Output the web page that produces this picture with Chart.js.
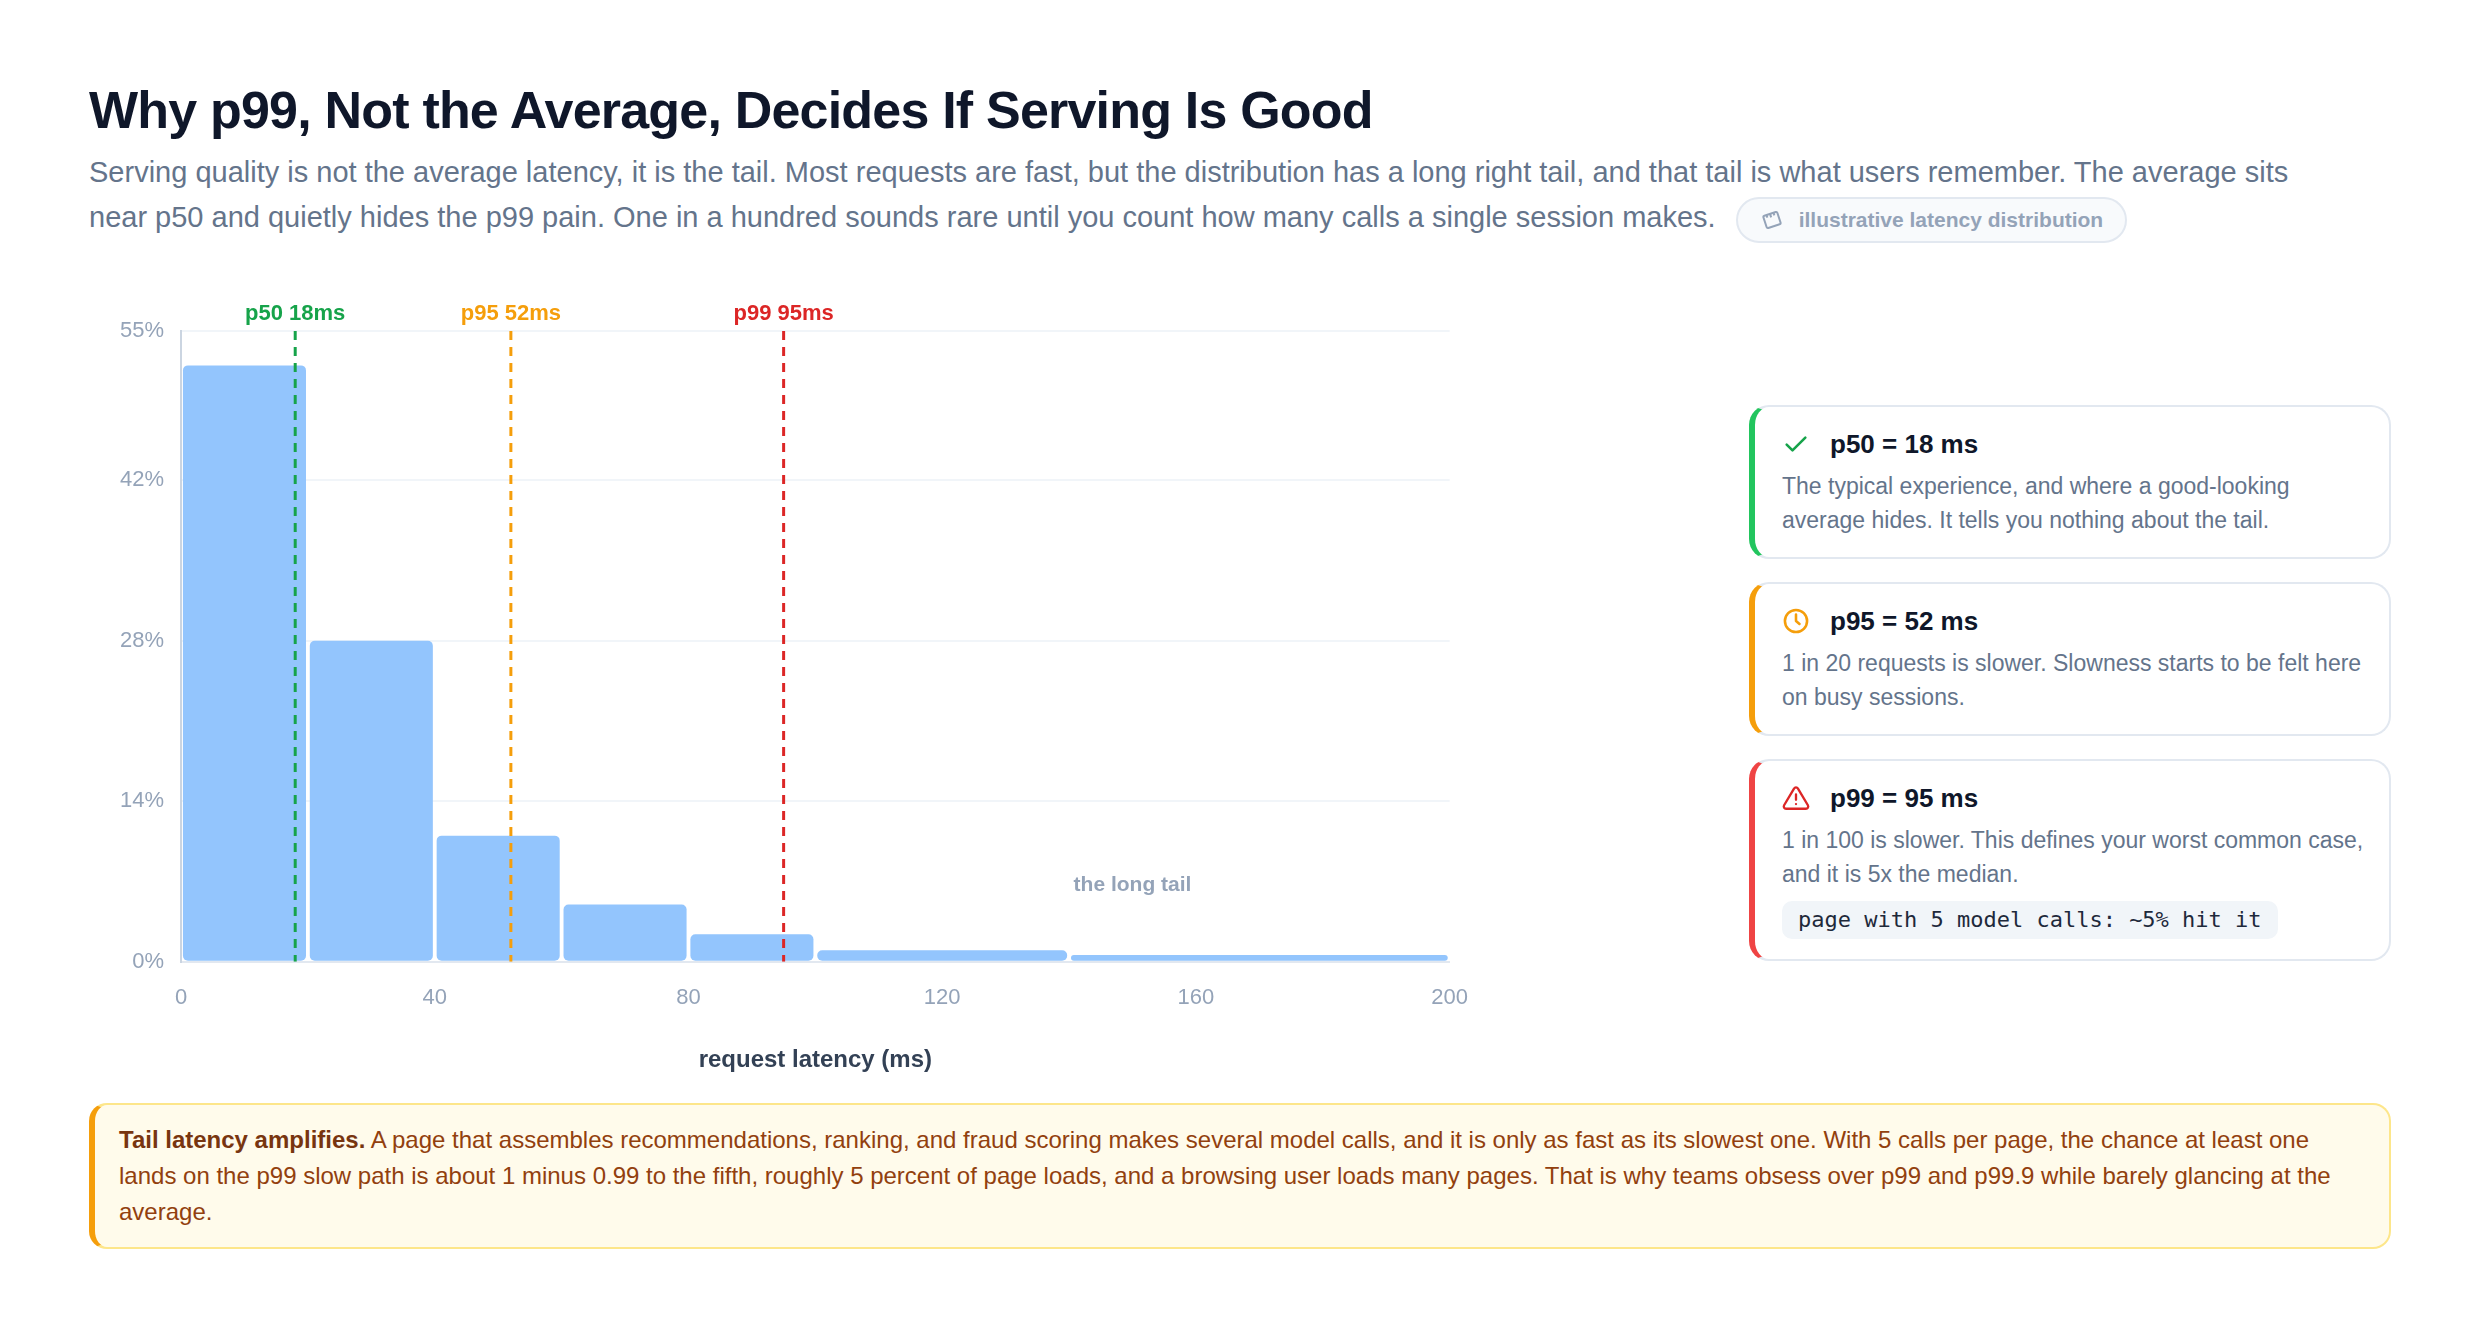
<!DOCTYPE html>
<html>
<head>
<meta charset="utf-8">
<script src="https://cdn.jsdelivr.net/npm/chart.js@4.4.1/dist/chart.umd.min.js"></script>
<style>
  * { box-sizing: border-box; }
  html, body { margin: 0; background: #fff; }
  body { width: 2480px; height: 1322px; overflow: hidden; font-family: "Liberation Sans", Arial, Helvetica, sans-serif; }
  .page { padding: 0 89px; }
  h1 { margin: 79px 0 0; font-size: 52px; line-height: 1.2; letter-spacing: -0.8px; color: #0f172a; }
  .sub { margin: 9px 0 0; font-size: 29px; line-height: 45px; color: #64748b; max-width: 2250px; }
  .badge { display: inline-flex; align-items: center; gap: 16px; height: 46px; padding: 0 22px 0 23px; margin-left: 20px;
    border: 2px solid #e2e8f0; background: #f8fafc; border-radius: 999px; font-size: 21px; font-weight: 700; color: #94a3b8;
    vertical-align: middle; }
  .main { position: relative; height: 800px; margin-top: 40px; }
  .chart-box { position: absolute; left: 0; top: 0; width: 1394px; height: 800px; }
  .cards { position: absolute; left: 1660px; top: 122px; width: 642px; display: flex; flex-direction: column; gap: 23px; }
  .card { border: 2px solid #e2e8f0; border-left: 6px solid; border-radius: 20px; padding: 20px 20px 20px 27px; }
  .card.green { border-left-color: #22c55e; }
  .card.amber { border-left-color: #f59e0b; }
  .card.red { border-left-color: #ef4444; }
  .card-head { display: flex; align-items: center; gap: 20px; height: 34px; }
  .card-head b { font-size: 26px; line-height: 34px; color: #0f172a; }
  .card p { margin: 8px 0 0; font-size: 23px; line-height: 34px; color: #64748b; }
  .card code { display: inline-block; margin-top: 10px; height: 38px; line-height: 38px; padding: 0 16px; border-radius: 10px;
    background: #f1f5f9; color: #1e293b; font-family: "DejaVu Sans Mono", monospace; font-size: 22px; }
  .note { margin-top: 20px; border: 2px solid #fde68a; border-left: 6px solid #f59e0b; border-radius: 18px; background: #fffbeb;
    padding: 17px 24px; font-size: 24px; line-height: 36px; color: #92400e; }
  .note b { color: #78350f; }
</style>
</head>
<body>
<div class="page">
  <h1>Why p99, Not the Average, Decides If Serving Is Good</h1>
  <div class="sub">Serving quality is not the average latency, it is the tail. Most requests are fast, but the distribution has a long right tail, and that tail is what users remember. The average sits near p50 and quietly hides the p99 pain. One in a hundred sounds rare until you count how many calls a single session makes.<span class="badge"><svg width="22" height="22" viewBox="0 0 24 24" fill="none" stroke="#94a3b8" stroke-width="2.2" stroke-linejoin="round"><g transform="rotate(-18 12 12)"><rect x="4" y="5" width="16" height="14" rx="1.5"/><path d="M8 5v3M12 5v4M16 5v3"/></g></svg>illustrative latency distribution</span></div>

  <div class="main">
    <div class="chart-box"><canvas id="chartLatency"></canvas></div>

    <div class="cards">
      <div class="card green">
        <div class="card-head">
          <svg width="28" height="28" viewBox="0 0 24 24" fill="none" stroke="#16a34a" stroke-width="2.2" stroke-linecap="round" stroke-linejoin="round"><path d="M4 12.5l5 5L20 6.5"/></svg>
          <b>p50 = 18 ms</b>
        </div>
        <p>The typical experience, and where a good-looking average hides. It tells you nothing about the tail.</p>
      </div>
      <div class="card amber">
        <div class="card-head">
          <svg width="28" height="28" viewBox="0 0 24 24" fill="none" stroke="#f59e0b" stroke-width="2.2" stroke-linecap="round" stroke-linejoin="round"><circle cx="12" cy="12" r="9.5"/><path d="M12 6.5V12l3 2.5"/></svg>
          <b>p95 = 52 ms</b>
        </div>
        <p>1 in 20 requests is slower. Slowness starts to be felt here on busy sessions.</p>
      </div>
      <div class="card red">
        <div class="card-head">
          <svg width="28" height="28" viewBox="0 0 24 24" fill="none" stroke="#dc2626" stroke-width="2" stroke-linecap="round" stroke-linejoin="round"><path d="M10.3 3.9L1.8 18.2a2 2 0 0 0 1.7 3h17a2 2 0 0 0 1.7-3L13.7 3.9a2 2 0 0 0-3.4 0z"/><path d="M12 9v4.5M12 17.2h.01"/></svg>
          <b>p99 = 95 ms</b>
        </div>
        <p>1 in 100 is slower. This defines your worst common case, and it is 5x the median.</p>
        <code>page with 5 model calls: ~5% hit it</code>
      </div>
    </div>
  </div>

  <div class="note"><b>Tail latency amplifies.</b> A page that assembles recommendations, ranking, and fraud scoring makes several model calls, and it is only as fast as its slowest one. With 5 calls per page, the chance at least one lands on the p99 slow path is about 1 minus 0.99 to the fifth, roughly 5 percent of page loads, and a browsing user loads many pages. That is why teams obsess over p99 and p99.9 while barely glancing at the average.</div>
</div>

<script>
// histogram bins (ms) and share of requests (%)
const binStarts = [0, 20, 40, 60, 80, 100, 140]
const binEnds = [20, 40, 60, 80, 100, 140, 200]
const binShare = [52, 28, 11, 5, 2.4, 1.0, 0.6]

const pctNames = ["p50", "p95", "p99"]
const pctValues = [18, 52, 95]

const xTicks = [0, 40, 80, 120, 160, 200]
const yTicks = [0, 14, 28, 42, 55]

const tailLabel = "the long tail"
const tailLabelAt = [150, 6.7]

const pctColors = ["#16a34a", "#f59e0b", "#dc2626"]
const binGap = 0.6
const fontFamily = "'Liberation Sans', Arial, Helvetica, sans-serif"

const centres = binStarts.map((lo, i) => (lo + binEnds[i]) / 2)
// chart.js sizes ungrouped bars off the closest pair of centres
const unit = Math.min(...centres.slice(1).map((c, i) => c - centres[i]))
const yMax = yTicks[yTicks.length - 1]

const barSets = binStarts.map((lo, i) => ({
  type: "bar",
  data: [{ x: centres[i], y: binShare[i] }],
  backgroundColor: "#93c5fd",
  borderRadius: 5,
  borderSkipped: false,
  grouped: false,
  categoryPercentage: 1,
  barPercentage: (binEnds[i] - lo - binGap) / unit,
  order: 2
}))

const lineSets = pctValues.map((v, i) => ({
  type: "line",
  data: [{ x: v, y: yMax }, { x: v, y: 0 }],
  borderColor: pctColors[i],
  borderWidth: 3,
  borderDash: [9, 7],
  pointRadius: 0,
  order: 1
}))

const markerLabels = {
  id: "markerLabels",
  afterDatasetsDraw(chart) {
    const { ctx, chartArea, scales } = chart
    ctx.save()
    ctx.textAlign = "center"
    ctx.textBaseline = "alphabetic"
    ctx.font = "bold 22px " + fontFamily
    pctValues.forEach((v, i) => {
      ctx.fillStyle = pctColors[i]
      ctx.fillText(pctNames[i] + " " + v + "ms", scales.x.getPixelForValue(v), chartArea.top - 11)
    })
    ctx.font = "bold 21px " + fontFamily
    ctx.textBaseline = "middle"
    ctx.fillStyle = "#94a3b8"
    ctx.fillText(tailLabel, scales.x.getPixelForValue(tailLabelAt[0]), scales.y.getPixelForValue(tailLabelAt[1]))
    ctx.restore()
  }
}

Chart.defaults.font.family = fontFamily

new Chart(chartLatency, {
  type: "bar",
  data: { datasets: [...lineSets, ...barSets] },
  plugins: [markerLabels],
  options: {
    responsive: true,
    maintainAspectRatio: false,
    animation: false,
    layout: { padding: { left: 14, right: 20, top: 48, bottom: 8 } },
    plugins: { legend: { display: false }, tooltip: { enabled: false } },
    scales: {
      x: {
        type: "linear",
        min: 0,
        max: 200,
        offset: false,
        afterBuildTicks: s => { s.ticks = xTicks.map(v => ({ value: v })) },
        grid: { display: false, offset: false },
        border: { color: "#e2e8f0", width: 2 },
        ticks: { color: "#94a3b8", font: { size: 22 }, padding: 15, maxRotation: 0 },
        title: {
          display: true,
          text: "request latency (ms)",
          color: "#334155",
          font: { size: 24, weight: "bold" },
          padding: { top: 20, bottom: 0 }
        }
      },
      y: {
        min: 0,
        max: yMax,
        afterBuildTicks: s => { s.ticks = yTicks.map(v => ({ value: v })) },
        grid: { color: "#f1f5f9", lineWidth: 2, drawTicks: false },
        border: { color: "#cbd5e1", width: 2 },
        ticks: { color: "#94a3b8", font: { size: 22 }, padding: 17, callback: v => v + "%" }
      }
    }
  }
})
</script>
</body>
</html>
